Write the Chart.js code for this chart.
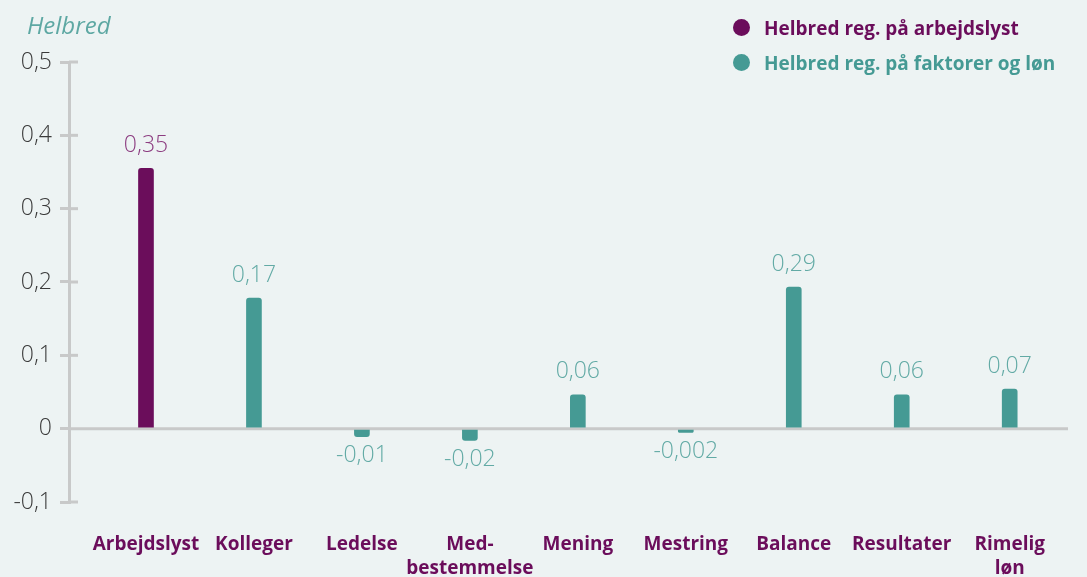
<!DOCTYPE html>
<html lang="da">
<head>
<meta charset="utf-8">
<script src="https://cdn.jsdelivr.net/npm/chart.js@4/dist/chart.umd.min.js"></script>
<style>
  html, body { margin: 0; padding: 0; background: #edf3f3; }
  #wrap { position: relative; width: 1087px; height: 577px; overflow: hidden; }
  #title { position: absolute; left: 27px; top: 8px; font: italic 400 24px 'Open Sans', sans-serif; color: #5ea8a3; }
  #legend { position: absolute; left: 733px; top: 10px; font: 700 19px 'Open Sans', sans-serif; }
  #legend div { height: 35px; display: flex; align-items: center; }
  #legend span.dot { width: 17px; height: 17px; border-radius: 50%; display: inline-block; margin-right: 14px; }
</style>
</head>
<body>
<div id="wrap">
  <canvas id="c" width="1087" height="577"></canvas>
  <div id="title">Helbred</div>
  <div id="legend"></div>
</div>
<script>
// ===== Data =====
const categories = [['Arbejdslyst'], ['Kolleger'], ['Ledelse'], ['Med-', 'bestemmelse'], ['Mening'], ['Mestring'], ['Balance'], ['Resultater'], ['Rimelig', 'løn']];
const arbejdslystValues = [0.355, null, null, null, null, null, null, null, null];
const faktorValues = [null, 0.178, -0.011, -0.016, 0.046, -0.005, 0.193, 0.046, 0.054];
const valueLabels = ['0,35', '0,17', '-0,01', '-0,02', '0,06', '-0,002', '0,29', '0,06', '0,07'];
const yTicks = [-0.1, 0, 0.1, 0.2, 0.3, 0.4, 0.5];
const seriesNames = ['Helbred reg. på arbejdslyst', 'Helbred reg. på faktorer og løn'];

const PURPLE = '#6b0d5b', TEAL = '#459a94';
const PURPLE_TXT = '#8c3c80', TEAL_TXT = '#62aaa5';
const AXIS = '#c8c9c9';

const toPoints = vals => vals.map((v, i) => v === null ? null : { x: i, y: v }).filter(p => p);

// ===== Legend (html) =====
const legend = document.getElementById('legend');
[[seriesNames[0], PURPLE], [seriesNames[1], TEAL]].forEach(([name, col]) => {
  const d = document.createElement('div');
  d.innerHTML = `<span class="dot" style="background:${col}"></span><span style="color:${col}">${name}</span>`;
  legend.appendChild(d);
});

// akse: indre tick-streger + nul-linje
const axisPlugin = {
  id: 'axisExtras',
  beforeDatasetsDraw(chart) {
    const { ctx, chartArea, scales: { y } } = chart;
    ctx.save();
    ctx.strokeStyle = AXIS;
    ctx.lineWidth = 3;
    yTicks.forEach(v => {
      const py = y.getPixelForValue(v);
      ctx.beginPath();
      ctx.moveTo(chartArea.left, py);
      ctx.lineTo(v === 0 ? chartArea.right : chartArea.left + 9, py);
      ctx.stroke();
    });
    ctx.restore();
  }
};

// værdi-etiketter over/under søjlerne
const valuePlugin = {
  id: 'valueLabels',
  afterDatasetsDraw(chart) {
    const { ctx } = chart;
    ctx.save();
    ctx.font = "300 23px 'Open Sans', sans-serif";
    ctx.textAlign = 'center';
    ctx.textBaseline = 'middle';
    chart.data.datasets.forEach((ds, di) => {
      const meta = chart.getDatasetMeta(di);
      meta.data.forEach((bar, k) => {
        const p = ds.data[k];
        const txt = valueLabels[p.x];
        ctx.fillStyle = di === 0 ? PURPLE_TXT : TEAL_TXT;
        const ty = p.y >= 0 ? bar.y - 23 : bar.y + 19;
        ctx.fillText(txt, bar.x, ty);
      });
    });
    ctx.restore();
  }
};

new Chart(document.getElementById('c'), {
  type: 'bar',
  data: {
    datasets: [
      { label: seriesNames[0], data: toPoints(arbejdslystValues), backgroundColor: PURPLE },
      { label: seriesNames[1], data: toPoints(faktorValues), backgroundColor: TEAL }
    ]
  },
  options: {
    responsive: false,
    animation: false,
    grouped: false,
    barThickness: 15,
    borderRadius: 3,
    layout: { padding: { top: 62, right: 19, left: 0, bottom: 0 } },
    plugins: { legend: { display: false }, tooltip: { enabled: false } },
    scales: {
      x: {
        type: 'linear',
        offset: false,
        min: -0.713,
        max: 8.54,
        grid: { display: false },
        border: { display: false },
        afterBuildTicks: s => { s.ticks = categories.map((_, i) => ({ value: i })); },
        afterFit: s => { s.height = 75; },
        ticks: {
          padding: 23,
          autoSkip: false,
          maxRotation: 0,
          color: PURPLE,
          font: { family: "'Open Sans', sans-serif", size: 19, weight: 700, lineHeight: 1.25 },
          callback: v => categories[v]
        }
      },
      y: {
        min: -0.1,
        max: 0.5,
        afterBuildTicks: s => { s.ticks = yTicks.map(v => ({ value: v })); },
        afterFit: s => { s.width = 69; },
        grid: { drawOnChartArea: false, tickLength: 9, color: AXIS, lineWidth: 3 },
        border: { display: true, color: AXIS, width: 3 },
        ticks: {
          padding: 8,
          color: '#3a3a3a',
          font: { family: "'Open Sans', sans-serif", size: 23, weight: 300 },
          callback: v => v === 0 ? '0' : v.toFixed(1).replace('.', ',')
        }
      }
    }
  },
  plugins: [axisPlugin, valuePlugin]
});
</script>
</body>
</html>
